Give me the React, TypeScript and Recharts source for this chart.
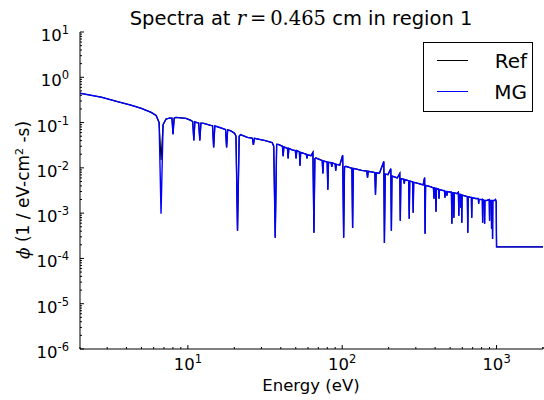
import React from 'react';
import { LineChart, Line, XAxis, YAxis, Legend } from 'recharts';

// energy grid (eV), dense around each resonance dip
const energy = [
  2.0, 2.76, 3.5, 4.3, 5.0, 5.78, 6.23, 6.51, 6.7, 6.91,
  7.22, 7.6, 7.89, 8.01, 8.15, 8.37, 9.71, 10.45, 10.75, 10.93,
  11.1, 11.43, 11.75, 11.95, 12.15, 12.67, 14.06, 14.45, 14.69, 14.95,
  15.36, 16.8, 17.55, 17.82, 18.1, 18.9, 20.06, 20.5, 20.97, 21.5,
  21.93, 24.32, 26.2, 26.58, 27.0, 27.79, 31.75, 35.2, 36.0, 36.81,
  37.6, 38.48, 41.0, 41.43, 41.9, 44.2, 44.62, 45.1, 47.33, 49.7,
  50.23, 50.8, 52.8, 53.3, 53.8, 58.5, 59.12, 59.7, 62.75, 64.6,
  65.6, 66.5, 67.56, 74.2, 74.95, 75.7, 79.9, 80.7, 81.5, 84.8,
  85.6, 86.4, 90.0, 90.8, 91.6, 96.4, 100.7, 102.2, 103.5, 105.3,
  115.6, 116.8, 118.0, 122.1, 133.5, 144.4, 145.9, 147.4, 162.7, 164.3,
  166.0, 174.3, 186.0, 187.7, 190.0, 198.0, 206.5, 208.3, 210.0, 227.5,
  236.0, 237.9, 240.0, 250.0, 252.4, 254.8, 269.5, 271.8, 274.0, 286.0,
  288.3, 290.6, 305.9, 334.3, 342.0, 344.4, 347.0, 376.3, 390.0, 393.4,
  396.6, 402.5, 405.3, 408.0, 421.0, 423.7, 426.5, 443.0, 460.0, 463.1,
  466.0, 474.0, 476.9, 480.0, 510.0, 513.6, 517.0, 526.0, 529.0, 532.0,
  553.1, 566.0, 569.7, 573.0, 584.0, 586.8, 590.0, 593.0, 595.6, 598.0,
  622.7, 647.0, 651.1, 655.0, 687.0, 690.7, 694.0, 732.8, 762.0, 766.1,
  770.0, 809.0, 812.8, 816.0, 833.0, 837.1, 841.0, 862.3, 897.0, 901.4,
  905.0, 925.0, 928.5, 932.0, 939.0, 942.4, 946.0, 970.7, 985.0, 995.0,
  1000.0, 2000.0,
];

const mgFlux = [
  0.444, 0.362, 0.29, 0.241, 0.206, 0.168, 0.144, 0.1, 0.00097, 0.09,
  0.12, 0.125, 0.125, 0.055, 0.125, 0.13, 0.124, 0.112, 0.105, 0.0403,
  0.104, 0.1, 0.098, 0.0403, 0.097, 0.096, 0.087, 0.085, 0.0282, 0.084,
  0.082, 0.074, 0.07, 0.0282, 0.069, 0.066, 0.058, 0.05, 0.00041, 0.05,
  0.054, 0.047, 0.045, 0.032, 0.045, 0.044, 0.04, 0.036, 0.03, 0.000285,
  0.033, 0.033, 0.03, 0.018, 0.029, 0.027, 0.0161, 0.027, 0.025, 0.024,
  0.0161, 0.024, 0.0225, 0.0112, 0.022, 0.02, 0.0161, 0.0195, 0.0185, 0.022,
  0.00037, 0.016, 0.0165, 0.0145, 0.0075, 0.0142, 0.0135, 0.0033, 0.0133, 0.013,
  0.0105, 0.0128, 0.0122, 0.0087, 0.012, 0.0115, 0.019, 0.000285, 0.0105, 0.0108,
  0.0098, 0.00047, 0.0097, 0.0095, 0.0088, 0.0085, 0.0061, 0.0084, 0.0079, 0.00256,
  0.0078, 0.0076, 0.0138, 0.00022, 0.0073, 0.0071, 0.0096, 0.00041, 0.0066, 0.006,
  0.0075, 0.00068, 0.0058, 0.0056, 0.0045, 0.0055, 0.0052, 0.00075, 0.0051, 0.0049,
  0.00102, 0.0048, 0.0046, 0.0042, 0.0061, 0.00035, 0.0041, 0.0038, 0.0036, 0.00208,
  0.0036, 0.0035, 0.00107, 0.0035, 0.0034, 0.00208, 0.0033, 0.0032, 0.0031, 0.00219,
  0.003, 0.003, 0.00243, 0.003, 0.0029, 0.00058, 0.0028, 0.0028, 0.00079, 0.0028,
  0.0027, 0.0029, 0.00088, 0.0026, 0.0026, 0.00132, 0.0026, 0.0025, 0.00061, 0.0025,
  0.0024, 0.0023, 0.00037, 0.0023, 0.0022, 0.00079, 0.0022, 0.0021, 0.0021, 0.00162,
  0.002, 0.002, 0.00061, 0.002, 0.0019, 0.00058, 0.0019, 0.0019, 0.002, 0.00068,
  0.0019, 0.0019, 0.00045, 0.0019, 0.0019, 0.00027, 0.0019, 0.0019, 0.002, 0.0018,
  0.00018, 0.00018,
];

// reference only differs visibly at the 6.7 eV dip (shallower)
const refFlux = [
  0.444, 0.362, 0.29, 0.241, 0.206, 0.168, 0.144, 0.1, 0.015, 0.09,
  0.12, 0.125, 0.125, 0.055, 0.125, 0.13, 0.124, 0.112, 0.105, 0.0403,
  0.104, 0.1, 0.098, 0.0403, 0.097, 0.096, 0.087, 0.085, 0.0282, 0.084,
  0.082, 0.074, 0.07, 0.0282, 0.069, 0.066, 0.058, 0.05, 0.00041, 0.05,
  0.054, 0.047, 0.045, 0.032, 0.045, 0.044, 0.04, 0.036, 0.03, 0.000285,
  0.033, 0.033, 0.03, 0.018, 0.029, 0.027, 0.0161, 0.027, 0.025, 0.024,
  0.0161, 0.024, 0.0225, 0.0112, 0.022, 0.02, 0.0161, 0.0195, 0.0185, 0.022,
  0.00037, 0.016, 0.0165, 0.0145, 0.0075, 0.0142, 0.0135, 0.0033, 0.0133, 0.013,
  0.0105, 0.0128, 0.0122, 0.0087, 0.012, 0.0115, 0.019, 0.000285, 0.0105, 0.0108,
  0.0098, 0.00047, 0.0097, 0.0095, 0.0088, 0.0085, 0.0061, 0.0084, 0.0079, 0.00256,
  0.0078, 0.0076, 0.0138, 0.00022, 0.0073, 0.0071, 0.0096, 0.00041, 0.0066, 0.006,
  0.0075, 0.00068, 0.0058, 0.0056, 0.0045, 0.0055, 0.0052, 0.00075, 0.0051, 0.0049,
  0.00102, 0.0048, 0.0046, 0.0042, 0.0061, 0.00035, 0.0041, 0.0038, 0.0036, 0.00208,
  0.0036, 0.0035, 0.00107, 0.0035, 0.0034, 0.00208, 0.0033, 0.0032, 0.0031, 0.00219,
  0.003, 0.003, 0.00243, 0.003, 0.0029, 0.00058, 0.0028, 0.0028, 0.00079, 0.0028,
  0.0027, 0.0029, 0.00088, 0.0026, 0.0026, 0.00132, 0.0026, 0.0025, 0.00061, 0.0025,
  0.0024, 0.0023, 0.00037, 0.0023, 0.0022, 0.00079, 0.0022, 0.0021, 0.0021, 0.00162,
  0.002, 0.002, 0.00061, 0.002, 0.0019, 0.00058, 0.0019, 0.0019, 0.002, 0.00068,
  0.0019, 0.0019, 0.00045, 0.0019, 0.0019, 0.00027, 0.0019, 0.0019, 0.002, 0.0018,
  0.00018, 0.00018,
];

const xDecades = [1, 10, 100, 1000];
const yDecades = [1e-6, 1e-5, 1e-4, 1e-3, 1e-2, 1e-1, 1, 10];

const seriesNames = ['Ref', 'MG'];
const seriesColors = ['#000000', '#0000ff'];

const data = energy.map((e, i) => ({ energy: e, ref: refFlux[i], mg: mgFlux[i] }));

// major + minor ticks for the log axes
const xTicks: number[] = [];
xDecades.forEach((d) => {
  for (let m = 1; m <= 9; m++) {
    const v = m * d;
    if (v >= 2 && v <= 2000) xTicks.push(v);
  }
});
xTicks.push(2000);
const yTicks: number[] = [];
yDecades.forEach((d) => {
  for (let m = 1; m <= 9; m++) {
    const v = m * d;
    if (v <= 10.0001) yTicks.push(v);
  }
});

const FONT = '"DejaVu Sans", sans-serif';
const MATH = '"DejaVu Serif", serif';

const expOf = (v: number) => Math.round(Math.log10(v));
const isMajor = (v: number) => Math.abs(Math.log10(v) - expOf(v)) < 1e-6;

const BottomTick = (props: any) => {
  const { x, y, payload } = props;
  const major = isMajor(payload.value);
  return (
    <g>
      <line x1={x} y1={y} x2={x} y2={y - (major ? 4 : 2)} stroke="#000" />
      {major && (
        <text x={x} y={y + 21} textAnchor="middle" fontSize={16.5} fontFamily={FONT} fill="#000">
          10<tspan dy={-7} fontSize={11.5}>{expOf(payload.value)}</tspan>
        </text>
      )}
    </g>
  );
};

const TopTick = (props: any) => {
  const { x, y, payload } = props;
  const major = isMajor(payload.value);
  return <line x1={x} y1={y} x2={x} y2={y + (major ? 4 : 2)} stroke="#000" />;
};

const LeftTick = (props: any) => {
  const { x, y, payload } = props;
  const major = isMajor(payload.value);
  return (
    <g>
      <line x1={x} y1={y} x2={x + (major ? 4 : 2)} y2={y} stroke="#000" />
      {major && (
        <text x={x - 11} y={y + 9} textAnchor="end" fontSize={16.5} fontFamily={FONT} fill="#000">
          10<tspan dy={-7} fontSize={11.5}>{expOf(payload.value)}</tspan>
        </text>
      )}
    </g>
  );
};

const RightTick = (props: any) => {
  const { x, y, payload } = props;
  const major = isMajor(payload.value);
  return <line x1={x} y1={y} x2={x - (major ? 4 : 2)} y2={y} stroke="#000" />;
};

const LegendBox = () => (
  <div
    style={{
      width: 110,
      height: 70,
      boxSizing: 'border-box',
      border: '1px solid #000',
      background: '#fff',
      fontFamily: FONT,
      fontSize: 20,
      position: 'relative',
    }}
  >
    {seriesNames.map((name, i) => (
      <div key={name} style={{ position: 'absolute', left: 0, top: 5 + i * 31, width: 103, height: 26 }}>
        <div style={{ position: 'absolute', left: 13, top: 12, width: 31, height: 1, background: seriesColors[i] }} />
        <div style={{ position: 'absolute', right: 0, top: 0, lineHeight: '26px' }}>{name}</div>
      </div>
    ))}
  </div>
);

export default function App() {
  return (
    <div style={{ position: 'absolute', left: 0, top: 0, width: 544, height: 400, background: '#fff' }}>
      <LineChart width={544} height={400} data={data} margin={{ top: 32, right: 1, bottom: 0, left: 0 }}>
        <XAxis
          xAxisId="b"
          dataKey="energy"
          type="number"
          scale="log"
          domain={[2, 2000]}
          allowDataOverflow
          ticks={xTicks}
          interval={0}
          height={51}
          tickSize={0}
          tickMargin={0}
          tickLine={false}
          tick={<BottomTick />}
          axisLine={{ stroke: '#000' }}
        />
        <XAxis
          xAxisId="t"
          orientation="top"
          dataKey="energy"
          type="number"
          scale="log"
          domain={[2, 2000]}
          allowDataOverflow
          ticks={xTicks}
          interval={0}
          height={0}
          tickSize={0}
          tickMargin={0}
          tickLine={false}
          tick={<TopTick />}
          axisLine={{ stroke: '#000' }}
        />
        <YAxis
          yAxisId="l"
          type="number"
          scale="log"
          domain={[1e-6, 10]}
          allowDataOverflow
          ticks={yTicks}
          interval={0}
          width={80}
          tickSize={0}
          tickMargin={0}
          tickLine={false}
          tick={<LeftTick />}
          axisLine={{ stroke: '#000' }}
        />
        <YAxis
          yAxisId="r"
          orientation="right"
          type="number"
          scale="log"
          domain={[1e-6, 10]}
          allowDataOverflow
          ticks={yTicks}
          interval={0}
          width={0}
          tickSize={0}
          tickMargin={0}
          tickLine={false}
          tick={<RightTick />}
          axisLine={{ stroke: '#000' }}
        />
        <Line xAxisId="b" yAxisId="l" dataKey="ref" name="Ref" type="linear" stroke={seriesColors[0]} strokeWidth={1.2} dot={false} isAnimationActive={false} />
        <Line xAxisId="b" yAxisId="l" dataKey="mg" name="MG" type="linear" stroke={seriesColors[1]} strokeWidth={1.4} dot={false} isAnimationActive={false} />
        <Legend
          layout="horizontal"
          verticalAlign="middle"
          align="center"
          content={<LegendBox />}
          wrapperStyle={{ position: 'absolute', left: 423, top: 42, width: 110, height: 70 }}
        />
      </LineChart>
      <svg width={544} height={400} style={{ position: 'absolute', left: 0, top: 0, pointerEvents: 'none' }}>
        <text x={301} y={25} textAnchor="middle" fontSize={19.5} fontFamily={FONT} fill="#000">
          Spectra at{' '}
          <tspan fontFamily={MATH} fontStyle="italic">r</tspan>
          <tspan fontFamily={MATH}>{'\u2009=\u20090.465'}</tspan>
          {' cm in region 1'}
        </text>
        <text x={311} y={391} textAnchor="middle" fontSize={16.5} fontFamily={FONT} fill="#000">
          Energy (eV)
        </text>
        <text transform="translate(29,190) rotate(-90)" textAnchor="middle" fontSize={17} fontFamily={FONT} fill="#000">
          <tspan fontFamily={MATH} fontStyle="italic">{'\u03d5'}</tspan>
          {' (1 / eV-cm'}
          <tspan dy={-6} fontSize={11}>2</tspan>
          <tspan dy={6}>{' -s)'}</tspan>
        </text>
      </svg>
    </div>
  );
}
